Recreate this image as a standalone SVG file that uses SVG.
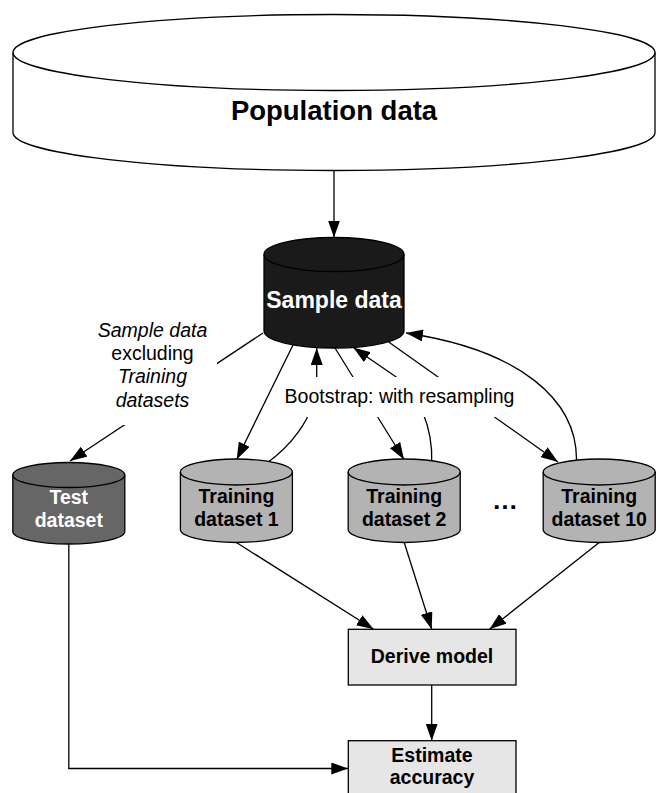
<svg xmlns="http://www.w3.org/2000/svg" width="656" height="793" viewBox="0 0 656 793">
<style>
text{font-family:"Liberation Sans",Arial,sans-serif;text-anchor:middle}
.b{font-weight:bold}
.cyl{stroke:#000;stroke-width:1.3}
.ln{fill:none;stroke:#000;stroke-width:1.3}
.arr{marker-end:url(#ah)}
.box{fill:#e6e6e6;stroke:#000;stroke-width:1.3}
.lbl{font-size:19.5px;fill:#000}
.nt{font-size:19.5px;font-weight:bold}
.it{font-style:italic}
</style>
<defs>
<marker id="ah" markerUnits="userSpaceOnUse" markerWidth="17" markerHeight="12" refX="17" refY="6" orient="auto">
<path d="M0,0 L17,6 L0,12 z" fill="#000"/>
</marker>
</defs>
<rect width="656" height="793" fill="#fff"/>

<g id="connectors">
<path class="ln arr" d="M334,170.5 L334,237.5"/>
<path class="ln arr" d="M263,333 L70,461"/>
<path class="ln arr" d="M293,345 L236.7,459.5"/>
<path class="ln arr" d="M335,348 L404,459.5"/>
<path class="ln arr" d="M388.3,341.7 L558,462"/>
<path class="ln arr" d="M267,463 C285,450 316.7,420 316.7,380 L316.7,348"/>
<path class="ln arr" d="M431.7,462.7 C433,430 420,392 393.3,375 L353.3,347.5"/>
<path class="ln arr" d="M576.5,462 C578,400 520,350 406,333"/>
<path class="ln arr" d="M236.4,542.5 L373.6,629.3"/>
<path class="ln arr" d="M404.2,542.5 L431.7,629.3"/>
<path class="ln arr" d="M599.2,542.5 L489.5,629.3"/>
<path class="ln arr" d="M431.7,685 L431.7,740.7"/>
<path class="ln arr" d="M68.8,544 L68.8,768.5 L348.3,768.5"/>
</g>

<g id="label-excluding">
<rect x="88" y="318" width="129" height="107" fill="#fff"/>
<text class="lbl it" x="152.5" y="336.7">Sample data</text>
<text class="lbl" x="152.5" y="360">excluding</text>
<text class="lbl it" x="152.5" y="383.3">Training</text>
<text class="lbl it" x="152.5" y="406.7">datasets</text>
</g>

<g id="label-bootstrap">
<rect x="279" y="377" width="242" height="40" fill="#fff"/>
<text class="lbl" x="399.5" y="402.5">Bootstrap: with resampling</text>
</g>

<g id="population">
<path class="cyl" fill="#fff" d="M13,52.5 A321,38 0 0 1 655,52.5 L655,132.5 A321,38 0 0 1 13,132.5 Z"/>
<path class="cyl" fill="none" d="M13,52.5 A321,38 0 0 0 655,52.5"/>
<text class="b" x="334" y="120" font-size="27.5">Population data</text>
</g>

<g id="sample">
<path class="cyl" fill="#1a1a1a" d="M264,254.5 A70,17 0 0 1 404,254.5 L404,331 A70,17 0 0 1 264,331 Z"/>
<path class="cyl" fill="none" d="M264,254.5 A70,17 0 0 0 404,254.5"/>
<text class="b" x="334" y="308" font-size="23" fill="#fff">Sample data</text>
</g>

<g id="test">
<path class="cyl" fill="#666" d="M12.8,475 A56,12.5 0 0 1 124.8,475 L124.8,531.5 A56,12.5 0 0 1 12.8,531.5 Z"/>
<path class="cyl" fill="none" d="M12.8,475 A56,12.5 0 0 0 124.8,475"/>
<text class="nt" x="68.8" y="503.5" fill="#fff">Test</text>
<text class="nt" x="68.8" y="527" fill="#fff">dataset</text>
</g>

<g id="training1">
<path class="cyl" fill="#b3b3b3" d="M180.4,472 A56,13 0 0 1 292.4,472 L292.4,529.5 A56,13 0 0 1 180.4,529.5 Z"/>
<path class="cyl" fill="none" d="M180.4,472 A56,13 0 0 0 292.4,472"/>
<text class="nt" x="236.4" y="503">Training</text>
<text class="nt" x="236.4" y="525.5">dataset 1</text>
</g>

<g id="training2">
<path class="cyl" fill="#b3b3b3" d="M348.2,472 A56,13 0 0 1 460.2,472 L460.2,529.5 A56,13 0 0 1 348.2,529.5 Z"/>
<path class="cyl" fill="none" d="M348.2,472 A56,13 0 0 0 460.2,472"/>
<text class="nt" x="404.2" y="503">Training</text>
<text class="nt" x="404.2" y="525.5">dataset 2</text>
</g>

<g id="ellipsis">
<text class="b" x="505" y="509" font-size="26">…</text>
</g>

<g id="training10">
<path class="cyl" fill="#b3b3b3" d="M543.2,472 A56,13 0 0 1 655.2,472 L655.2,529.5 A56,13 0 0 1 543.2,529.5 Z"/>
<path class="cyl" fill="none" d="M543.2,472 A56,13 0 0 0 655.2,472"/>
<text class="nt" x="599.2" y="503">Training</text>
<text class="nt" x="599.2" y="525.5">dataset 10</text>
</g>

<g id="derive">
<rect class="box" x="348.3" y="629.3" width="167.7" height="55.7"/>
<text class="nt" x="432" y="663.3">Derive model</text>
</g>

<g id="estimate">
<rect class="box" x="348.3" y="740.7" width="167.7" height="70"/>
<text class="nt" x="432" y="761.7">Estimate</text>
<text class="nt" x="432" y="784">accuracy</text>
</g>
</svg>
